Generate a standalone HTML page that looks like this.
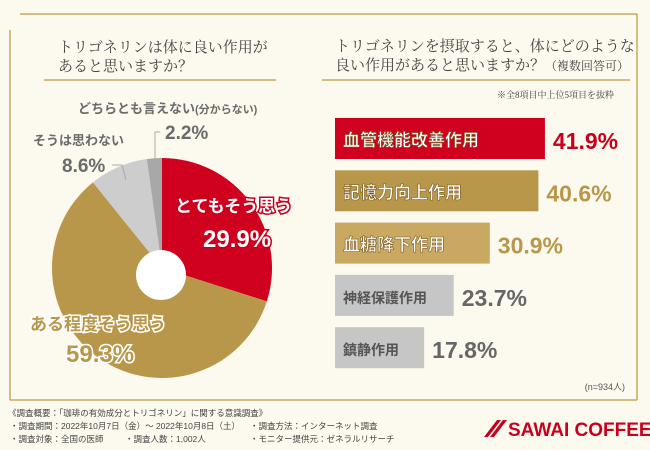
<!DOCTYPE html>
<html><head><meta charset="utf-8">
<style>
body{margin:0;width:650px;height:450px;overflow:hidden;background:#fcf9ee;font-family:"Liberation Sans","Noto Sans CJK JP",sans-serif;}
svg{display:block}
</style></head>
<body>
<svg width="650" height="450" xmlns="http://www.w3.org/2000/svg">
<rect x="0" y="0" width="650" height="450" fill="#fcf9ee"/>
<g stroke="#c7a95e" fill="none" stroke-width="1.5">
<line x1="20" y1="14" x2="637" y2="14"/>
<line x1="10" y1="30" x2="10" y2="400"/>
<line x1="637" y1="14" x2="637" y2="400"/>
<line x1="10" y1="400" x2="637" y2="400"/>
<line x1="44" y1="80" x2="276" y2="80"/>
<line x1="322" y1="80" x2="630" y2="80"/>
</g>
<g font-family="'Liberation Serif','Noto Serif CJK SC',serif" fill="#444" font-size="15">
<text x="58" y="52">トリゴネリンは体に良い作用が</text>
<text x="58" y="71">あると思いますか？</text>
<text x="335" y="51">トリゴネリンを摂取すると、体にどのような</text>
<text x="335" y="70">良い作用があると思いますか？<tspan font-size="12">（複数回答可）</tspan></text>
<text x="614" y="98" font-size="9" text-anchor="end">※全8項目中上位5項目を抜粋</text>
</g>
<g id="pie"></g>
<g id="bars"></g>
<g font-weight="bold">
<text x="78" y="113" font-size="13" fill="#6b6b6b">どちらとも言えない<tspan font-size="11">(分からない)</tspan></text>
<text x="165" y="139" font-size="19" fill="#6b6b6b">2.2%</text>
<polyline points="160,132 155,132 155,172" stroke="#aaa" fill="none"/>
<text x="33" y="145" font-size="13" fill="#6b6b6b">そうは思わない</text>
<text x="62" y="172" font-size="19" fill="#6b6b6b">8.6%</text>
<polyline points="112,165 122,165 126,180" stroke="#aaa" fill="none"/>
<text x="175" y="212" font-size="17" fill="#fff" stroke="#c8001e" stroke-width="3" paint-order="stroke">とてもそう思う</text>
<text x="203" y="247" font-size="24" fill="#fff" stroke="#c8001e" stroke-width="3" paint-order="stroke">29.9%</text>
<text x="30" y="330" font-size="17" fill="#b9974a" stroke="#fff" stroke-width="3" paint-order="stroke">ある程度そう思う</text>
<text x="66" y="362" font-size="24" fill="#b9974a" stroke="#fff" stroke-width="3" paint-order="stroke">59.3%</text>
</g>
<text x="625" y="390" font-size="9" fill="#555" text-anchor="end">(n=934人)</text>
<g font-size="8.5" fill="#444">
<text x="8" y="416">《調査概要：「珈琲の有効成分とトリゴネリン」に関する意識調査》</text>
<text x="10" y="429">・調査期間：2022年10月7日（金）～ 2022年10月8日（土）</text>
<text x="250" y="429">・調査方法：インターネット調査</text>
<text x="10" y="442">・調査対象：全国の医師</text>
<text x="125" y="442">・調査人数：1,002人</text>
<text x="250" y="442">・モニター提供元：ゼネラルリサーチ</text>
</g>
<g>
<polygon points="484,437 497,420 501,420 488,437" fill="#c8001e"/>
<polygon points="490,437 503,420 507,420 494,437" fill="#c8001e"/>
<text x="508" y="436" font-size="19" font-weight="bold" fill="#c8001e">SAWAI COFFEE</text>
</g>
</svg>
<script>
const pieCategories=['とてもそう思う','ある程度そう思う','そうは思わない','どちらとも言えない'];
const pieValues=[29.9,59.3,8.6,2.2];
const pieColors=['#d0001f','#b9974a','#cdcdcd','#a8a8a8'];
const barCategories=['血管機能改善作用','記憶力向上作用','血糖降下作用','神経保護作用','鎮静作用'];
const barValues=[41.9,40.6,30.9,23.7,17.8];
const barLabels=['41.9%','40.6%','30.9%','23.7%','17.8%'];
const NS='http://www.w3.org/2000/svg';
const cx=162,cy=268,R=110,r0=25;
const total=pieValues.reduce((a,b)=>a+b,0);
const pie=document.getElementById('pie');
let a0=-Math.PI/2;
pieValues.forEach((v,i)=>{
 const a1=a0+v/total*2*Math.PI;
 const large=(a1-a0)>Math.PI?1:0;
 const p=document.createElementNS(NS,'path');
 p.setAttribute('d',`M${cx},${cy} L${cx+R*Math.cos(a0)},${cy+R*Math.sin(a0)} A${R},${R} 0 ${large} 1 ${cx+R*Math.cos(a1)},${cy+R*Math.sin(a1)} Z`);
 p.setAttribute('fill',pieColors[i]);
 
 
 pie.appendChild(p);a0=a1;
});
const hole=document.createElementNS(NS,'circle');
hole.setAttribute('cx',161);hole.setAttribute('cy',275);hole.setAttribute('r',r0);hole.setAttribute('fill','#fff');


pie.appendChild(hole);
const bars=document.getElementById('bars');
const x0=335,scale=5.01,top0=118,pitch=52.3,bh=41;
const barFill=['#d0001f','#b9974a','#c9a862','#c6c6c6','#c6c6c6'];
const valFill=['#c8001e','#b9974a','#b9974a','#666','#666'];
barValues.forEach((v,i)=>{
 const y=top0+i*pitch,w=v*scale;
 const rc=document.createElementNS(NS,'rect');
 rc.setAttribute('x',x0);rc.setAttribute('y',y);rc.setAttribute('width',w);rc.setAttribute('height',bh);rc.setAttribute('fill',barFill[i]);
 
 
 bars.appendChild(rc);
 const t=document.createElementNS(NS,'text');
 t.setAttribute('x',x0+8);t.setAttribute('y',y+28);t.setAttribute('font-size',i<3?17:14);t.setAttribute('font-weight','bold');
 t.setAttribute('fill',i<3?'#fff':'#555');
 if(i<3){t.setAttribute('stroke','#7a5a20');t.setAttribute('stroke-width','0.6');}
 t.textContent=barCategories[i];
 
 
 bars.appendChild(t);
 const vt=document.createElementNS(NS,'text');
 vt.setAttribute('x',x0+w+8);vt.setAttribute('y',y+31);vt.setAttribute('font-size',23);vt.setAttribute('font-weight','bold');vt.setAttribute('fill',valFill[i]);
 vt.textContent=barLabels[i];
 
 
 bars.appendChild(vt);
});
</script>
</body></html>
